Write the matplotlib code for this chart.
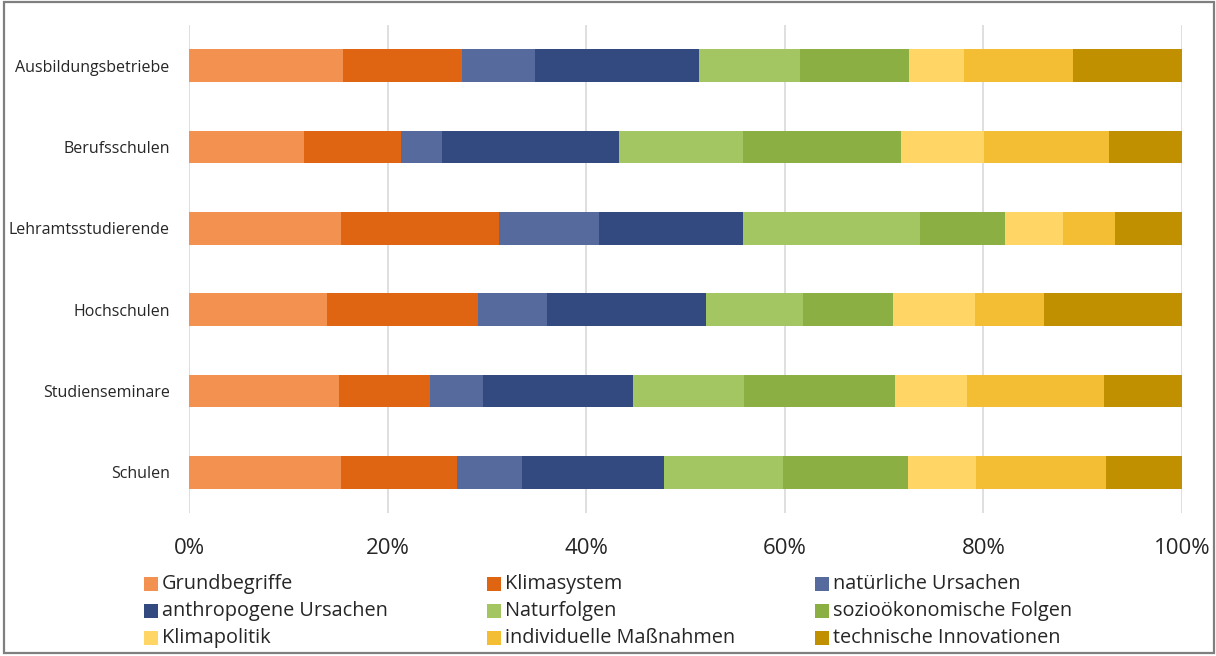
import numpy as np
import matplotlib.pyplot as plt
import matplotlib as mpl

plt.rcParams['font.family'] = ['Open Sans', 'DejaVu Sans']

CATEGORIES = ['Ausbildungsbetriebe', 'Berufsschulen', 'Lehramtsstudierende',
              'Hochschulen', 'Studienseminare', 'Schulen']
SERIES = ['Grundbegriffe', 'Klimasystem', 'natürliche Ursachen',
          'anthropogene Ursachen', 'Naturfolgen', 'sozioökonomische Folgen',
          'Klimapolitik', 'individuelle Maßnahmen', 'technische Innovationen']
COLORS = ['#F29150', '#E06513', '#566A9E', '#334A80', '#A3C662',
          '#8BAF42', '#FFD666', '#F3BE33', '#C09000']

# shares in percent, one list per series, in the order of CATEGORIES
grundbegriffe = [15.5, 11.6, 15.3, 13.9, 15.1, 15.3]
klimasystem = [12.0, 9.7, 15.9, 15.2, 9.2, 11.7]
natuerliche = [7.3, 4.2, 10.1, 7.0, 5.3, 6.5]
anthropogene = [16.6, 17.8, 14.5, 16.0, 15.1, 14.3]
naturfolgen = [10.1, 12.5, 17.8, 9.7, 11.2, 12.0]
soziooekonomisch = [11.0, 15.9, 8.6, 9.1, 15.2, 12.6]
klimapolitik = [5.5, 8.4, 5.8, 8.3, 7.2, 6.9]
massnahmen = [11.0, 12.5, 5.3, 6.9, 13.8, 13.0]
innovationen = [11.0, 7.4, 6.7, 13.9, 7.9, 7.7]

values = np.array([grundbegriffe, klimasystem, natuerliche, anthropogene,
                   naturfolgen, soziooekonomisch, klimapolitik, massnahmen,
                   innovationen])
shares = values / values.sum(axis=0)

fw, fh, dpi = 12.16, 6.56, 100
fig = plt.figure(figsize=(fw, fh), dpi=dpi)
ax = fig.add_axes([189/1216, 143/656, 993/1216, 488/656])

ypos = np.arange(len(CATEGORIES))
left = np.zeros(len(CATEGORIES))
for name, row, color in zip(SERIES, shares, COLORS):
    ax.barh(ypos, row, left=left, height=0.4, color=color, label=name,
            edgecolor='none', zorder=2)
    left += row

ax.set_xlim(0, 1)
ax.set_ylim(len(CATEGORIES) - 0.5, -0.5)
ax.set_xticks(np.linspace(0, 1, 6))
ax.xaxis.set_major_formatter(mpl.ticker.PercentFormatter(1.0, decimals=0))
ax.set_yticks(ypos)
ax.set_yticklabels(CATEGORIES)
ax.tick_params(axis='x', length=0, pad=18, labelsize=16, labelcolor='#262626')
ax.tick_params(axis='y', length=0, pad=14, labelsize=11.5, labelcolor='#262626')
ax.grid(axis='x', color='#D9D9D9', linewidth=1.2, zorder=0)
ax.set_axisbelow(True)
for s in ax.spines.values():
    s.set_visible(False)

# legend, three entries per row
col_x = [144, 487, 815]
row_y = [584, 611, 638]
for i, (name, color) in enumerate(zip(SERIES, COLORS)):
    x = col_x[i % 3]
    y = 656 - row_y[i // 3]
    fig.patches.append(mpl.patches.Rectangle(
        (x/1216, (y - 7)/656), 14/1216, 14/656, facecolor=color,
        edgecolor='none', transform=fig.transFigure))
    fig.text((x + 18)/1216, y/656, name, ha='left', va='center',
             fontsize=14.3, color='#262626')

# outer frame
fig.patches.append(mpl.patches.Rectangle(
    (4/1216, 3/656), 1210/1216, 651/656, facecolor='none',
    edgecolor='#7F7F7F', linewidth=1.6, transform=fig.transFigure))

fig.savefig('out.png', dpi=dpi)
